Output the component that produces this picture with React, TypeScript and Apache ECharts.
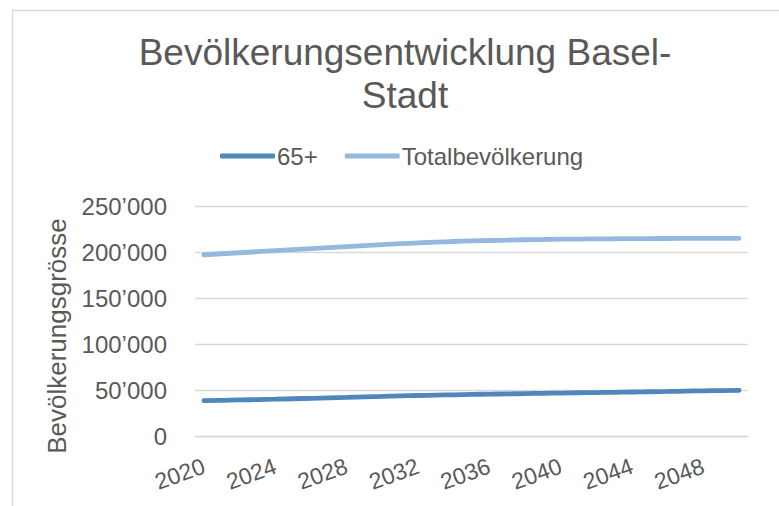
import React, { useEffect, useRef } from "react";
import * as echarts from "echarts";

const years: string[] = [
  "2020", "2021", "2022", "2023", "2024", "2025", "2026", "2027", "2028", "2029",
  "2030", "2031", "2032", "2033", "2034", "2035", "2036", "2037", "2038", "2039",
  "2040", "2041", "2042", "2043", "2044", "2045", "2046", "2047", "2048", "2049", "2050",
];

const senior65: number[] = [
  38400, 38800, 39200, 39600, 40000, 40500, 41000, 41500, 42000, 42600,
  43100, 43600, 44000, 44400, 44800, 45200, 45500, 45800, 46100, 46400,
  46700, 47000, 47200, 47500, 47800, 48100, 48400, 48800, 49100, 49400, 49700,
];

const total: number[] = [
  197000, 198100, 199200, 200300, 201400, 202500, 203600, 204700, 205800, 206900,
  208000, 209000, 209900, 210700, 211400, 212000, 212500, 212900, 213300, 213600,
  213900, 214100, 214300, 214400, 214500, 214600, 214700, 214800, 214800, 214900, 214900,
];

const yTicks = { min: 0, max: 250000, interval: 50000 };

const seriesNames = ["65+", "Totalbevölkerung"];
const titleText = "Bevölkerungsentwicklung Basel-\nStadt";
const yAxisName = "Bevölkerungsgrösse";

const FONT = "'Liberation Sans', Arial, sans-serif";
const TEXT = "#595959";
const GRID = "#d9d9d9";

function fmt(v: number): string {
  return String(v).replace(/\B(?=(\d{3})+(?!\d))/g, "\u2019");
}

export default function App() {
  const ref = useRef<HTMLDivElement>(null);
  useEffect(() => {
    if (!ref.current) return;
    const chart = echarts.init(ref.current, undefined, { renderer: "svg" });
    chart.setOption({
      animation: false,
      backgroundColor: "#ffffff",
      title: {
        text: titleText,
        left: 400,
        top: 26,
        textAlign: "center",
        textStyle: {
          fontFamily: FONT,
          fontSize: 37,
          fontWeight: "normal",
          color: TEXT,
          lineHeight: 43,
        },
      },
      legend: {
        left: 215,
        top: 139,
        itemWidth: 55,
        itemHeight: 5,
        itemGap: 27,
        icon: "roundRect",
        data: seriesNames,
        textStyle: {
          fontFamily: FONT,
          fontSize: 24,
          color: TEXT,
          padding: [0, 0, 0, -3],
        },
      },
      grid: { left: 195, right: 31, top: 206, bottom: 70, containLabel: false },
      xAxis: {
        type: "category",
        data: years,
        boundaryGap: true,
        axisLine: { show: true, lineStyle: { color: GRID, width: 1.3 } },
        axisTick: { show: false },
        axisLabel: {
          interval: 3,
          rotate: 20,
          margin: 29,
          fontFamily: FONT,
          fontSize: 23,
          color: TEXT,
        },
      },
      yAxis: {
        type: "value",
        min: yTicks.min,
        max: yTicks.max,
        interval: yTicks.interval,
        axisLine: { show: false },
        axisTick: { show: false },
        splitLine: { lineStyle: { color: GRID, width: 1.3 } },
        axisLabel: {
          margin: 28,
          fontFamily: FONT,
          fontSize: 24,
          color: TEXT,
          formatter: (v: number) => fmt(v),
        },
      },
      graphic: [
        {
          type: "rect",
          left: 10,
          top: 8,
          shape: { width: 820, height: 560 },
          style: { fill: "none", stroke: GRID, lineWidth: 1.3 },
          silent: true,
          z: -10,
        },
        {
          type: "text",
          x: 57,
          y: 336,
          rotation: Math.PI / 2,
          style: {
            text: yAxisName,
            fontFamily: FONT,
            fontSize: 26,
            fill: TEXT,
            align: "center",
            verticalAlign: "middle",
          },
        },
      ],
      series: [
        {
          name: seriesNames[0],
          type: "line",
          data: senior65,
          smooth: true,
          showSymbol: false,
          color: "#4f87bb",
          lineStyle: { width: 4.8, color: "#4f87bb", cap: "round" },
        },
        {
          name: seriesNames[1],
          type: "line",
          data: total,
          smooth: true,
          showSymbol: false,
          color: "#95b8df",
          lineStyle: { width: 4.8, color: "#95b8df", cap: "round" },
        },
      ],
    });
    return () => chart.dispose();
  }, []);
  return (
    <div
      ref={ref}
      style={{ position: "absolute", left: 0, top: 0, width: 779, height: 506 }}
    />
  );
}
